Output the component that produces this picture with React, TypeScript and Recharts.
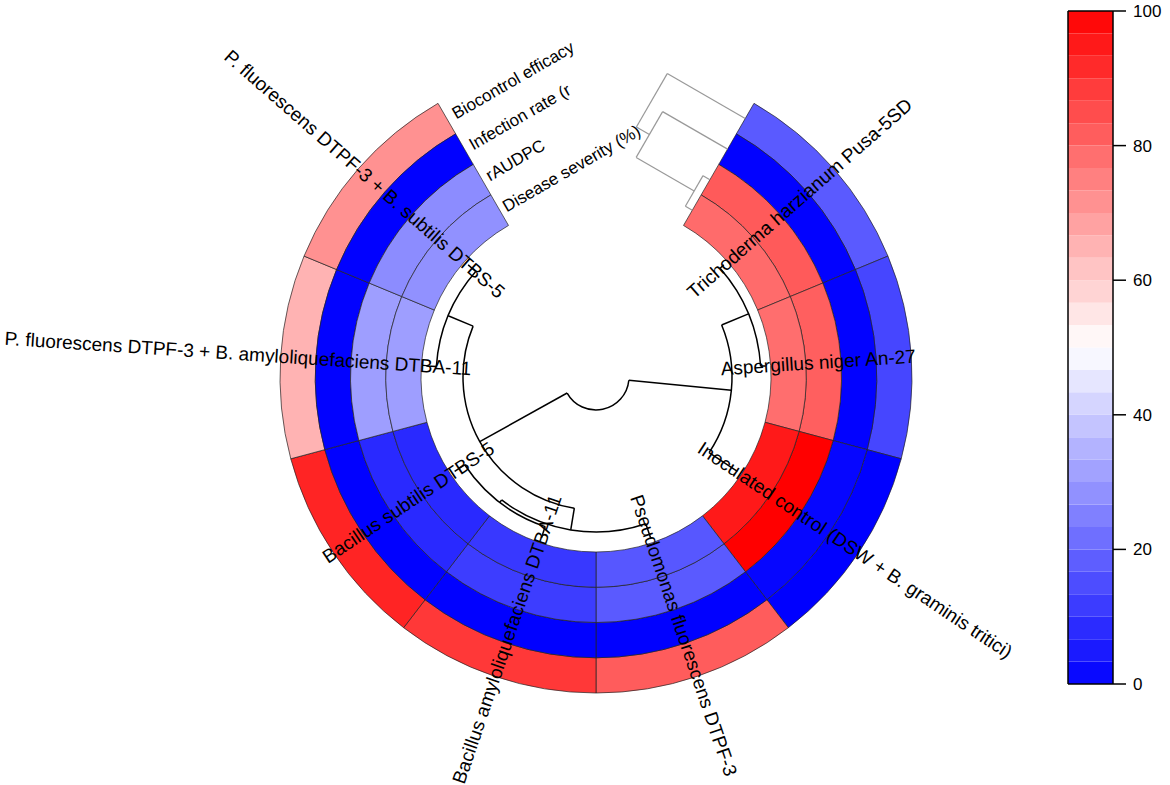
import React from "react";
import { Bar, BarChart, Cell, Pie, PieChart, XAxis, YAxis } from "recharts";

const treatments = [
  "Trichoderma harzianum Pusa-5SD",
  "Aspergillus niger An-27",
  "Inoculated control (DSW + B. graminis tritici)",
  "Pseudomonas fluorescens DTPF-3",
  "Bacillus amyloliquefaciens DTBA-11",
  "Bacillus subtilis DTBS-5",
  "P. fluorescens DTPF-3 + B. amyloliquefaciens DTBA-11",
  "P. fluorescens DTPF-3 + B. subtilis DTBS-5",
];

// tracks, outer to inner
const traits = ["Biocontrol efficacy", "Infection rate (r", "rAUDPC", "Disease severity (%)"];

const biocontrolEfficacy = [17.6, 13.7, 0, 82, 89, 93, 65, 71.6];
const infectionRate = [0.4, 0.3, 1.2, 0.2, 0.1, 0.1, 0.3, 0.2];
const rAUDPC = [82.4, 81.4, 100, 17.6, 12, 8, 31, 27.5];
const diseaseSeverity = [79, 78.4, 95, 17, 11, 8, 31, 28.4];

const legendTicks = [0, 20, 40, 60, 80, 100];
const legendSteps = 30;

// row dendrogram (leaf = treatment index, h = merge height)
type Tree = number | { h: number; kids: Tree[] };
const rowTree: Tree = {
  h: 137,
  kids: [
    { h: 34, kids: [{ h: 5, kids: [0, 1] }, 2] },
    {
      h: 37,
      kids: [
        { h: 15, kids: [3, { h: 12, kids: [4, 5] }] },
        { h: 10, kids: [6, 7] },
      ],
    },
  ],
};
// column dendrogram (leaf = trait index)
const colTree: Tree = { h: 90, kids: [0, { h: 75, kids: [1, { h: 8, kids: [2, 3] }] }] };

const W = 1170;
const H = 785;
const CX = 596;
const CY = 377;
const R_IN = 175;
const R_OUT = 316;
const RING = (R_OUT - R_IN) / traits.length;
const GAP_START = 30; // degrees clockwise from 12 o'clock
const SPAN = 300;
const STEP = SPAN / treatments.length;
const LEAF_R = 170;
const LABEL_R = 125;
const FONT = "'Liberation Sans', Arial, sans-serif";

const trackValues = [biocontrolEfficacy, infectionRate, rAUDPC, diseaseSeverity];

function heatColor(v: number) {
  const x = Math.max(0, Math.min(100, v));
  if (x <= 50) {
    const c = Math.round((255 * x) / 50);
    return `rgb(${c},${c},255)`;
  }
  const c = Math.round(255 * (1 - (x - 50) / 50));
  return `rgb(255,${c},${c})`;
}

const sectorAngle = (i: number) => GAP_START + (i + 0.5) * STEP;

function polar(r: number, t: number): [number, number] {
  const a = (t * Math.PI) / 180;
  return [CX + r * Math.sin(a), CY - r * Math.cos(a)];
}

function arcPath(r: number, t1: number, t2: number) {
  const [x1, y1] = polar(r, t1);
  const [x2, y2] = polar(r, t2);
  const large = t2 - t1 > 180 ? 1 : 0;
  return `M${x1},${y1} A${r},${r} 0 ${large} 1 ${x2},${y2}`;
}

function rowDendro(node: Tree, out: string[]): { angle: number; r: number } {
  if (typeof node === "number") return { angle: sectorAngle(node), r: LEAF_R };
  const kids = node.kids.map((k) => rowDendro(k, out));
  const r = LEAF_R - node.h;
  kids.forEach((k) => {
    const [x1, y1] = polar(r, k.angle);
    const [x2, y2] = polar(k.r, k.angle);
    out.push(`M${x1},${y1} L${x2},${y2}`);
  });
  const angles = kids.map((k) => k.angle);
  out.push(arcPath(r, Math.min(...angles), Math.max(...angles)));
  return { angle: angles.reduce((a, b) => a + b, 0) / angles.length, r };
}

const ringMid = (j: number) => R_OUT - (j + 0.5) * RING;

function colPoint(rad: number, h: number): [number, number] {
  const a = (GAP_START * Math.PI) / 180;
  return [CX + rad * Math.sin(a) - h * Math.cos(a), CY - rad * Math.cos(a) - h * Math.sin(a)];
}

function colDendro(node: Tree, out: string[]): { rad: number; h: number } {
  if (typeof node === "number") return { rad: ringMid(node), h: 0 };
  const kids = node.kids.map((k) => colDendro(k, out));
  kids.forEach((k) => {
    const [x1, y1] = colPoint(k.rad, k.h);
    const [x2, y2] = colPoint(k.rad, node.h);
    out.push(`M${x1},${y1} L${x2},${y2}`);
  });
  const rads = kids.map((k) => k.rad);
  const [x1, y1] = colPoint(Math.min(...rads), node.h);
  const [x2, y2] = colPoint(Math.max(...rads), node.h);
  out.push(`M${x1},${y1} L${x2},${y2}`);
  return { rad: rads.reduce((a, b) => a + b, 0) / rads.length, h: node.h };
}

function Overlay() {
  const rowPaths: string[] = [];
  rowDendro(rowTree, rowPaths);
  const colPaths: string[] = [];
  colDendro(colTree, colPaths);
  return (
    <svg width={W} height={H} style={{ position: "absolute", left: 0, top: 0, pointerEvents: "none" }}>
      {rowPaths.map((d, i) => (
        <path key={`r${i}`} d={d} fill="none" stroke="#000" strokeWidth={1.5} />
      ))}
      {colPaths.map((d, i) => (
        <path key={`c${i}`} d={d} fill="none" stroke="#999" strokeWidth={1.2} />
      ))}
      {treatments.map((name, i) => {
        const t = sectorAngle(i);
        const [x, y] = polar(LABEL_R, t);
        const right = t < 180;
        const rot = right ? t - 90 : t - 270;
        return (
          <text
            key={name}
            x={x}
            y={y}
            transform={`rotate(${rot} ${x} ${y})`}
            textAnchor={right ? "start" : "end"}
            dominantBaseline="central"
            fontSize={19}
            fontFamily={FONT}
            fill="#000"
          >
            {name}
          </text>
        );
      })}
      {traits.map((name, j) => {
        const [x, y] = polar(ringMid(j), -28.5);
        return (
          <text
            key={name}
            x={x}
            y={y}
            transform={`rotate(-30 ${x} ${y})`}
            textAnchor="start"
            dominantBaseline="central"
            fontSize={17}
            fontFamily={FONT}
            fill="#000"
          >
            {name}
          </text>
        );
      })}
    </svg>
  );
}

const legendKeys = Array.from({ length: legendSteps }, (_, i) => `b${i}`);
const legendRow = [
  Object.fromEntries([["name", ""], ...legendKeys.map((k) => [k, 100 / legendSteps])]),
];

const frameLine = { stroke: "#000", strokeWidth: 1.5 };

export default function App() {
  const pieData = treatments.map((name) => ({ name, size: 1 }));
  return (
    <div style={{ position: "absolute", left: 0, top: 0, width: W, height: H, background: "#fff" }}>
      <div style={{ position: "absolute", left: 0, top: 0 }}>
        <PieChart width={W} height={H} margin={{ top: 0, right: 0, bottom: 0, left: 0 }}>
          {trackValues.map((vals, j) => (
            <Pie
              key={traits[j]}
              data={pieData}
              dataKey="size"
              cx={CX}
              cy={CY}
              outerRadius={R_OUT - j * RING}
              innerRadius={R_OUT - (j + 1) * RING}
              startAngle={90 - GAP_START}
              endAngle={90 - GAP_START - SPAN}
              paddingAngle={0}
              stroke="#222"
              strokeWidth={0.7}
              label={false}
              labelLine={false}
              isAnimationActive={false}
            >
              {vals.map((v, i) => (
                <Cell key={i} fill={heatColor(v)} />
              ))}
            </Pie>
          ))}
        </PieChart>
      </div>
      <div style={{ position: "absolute", left: 1040, top: 0 }}>
        <BarChart
          width={130}
          height={700}
          data={legendRow}
          margin={{ top: 10, right: 56, bottom: 15, left: 27 }}
          barCategoryGap={0}
          barGap={0}
        >
          <XAxis dataKey="name" height={1} tick={false} tickLine={false} axisLine={frameLine} />
          <XAxis
            xAxisId="top"
            orientation="top"
            dataKey="name"
            height={1}
            tick={false}
            tickLine={false}
            axisLine={frameLine}
          />
          <YAxis
            yAxisId="left"
            orientation="left"
            domain={[0, 100]}
            allowDataOverflow
            width={1}
            tick={false}
            tickLine={false}
            axisLine={frameLine}
          />
          <YAxis
            orientation="right"
            domain={[0, 100]}
            allowDataOverflow
            ticks={legendTicks}
            width={1}
            tickSize={13}
            tickMargin={7}
            axisLine={frameLine}
            tickLine={frameLine}
            tick={{ fill: "#000", fontSize: 17, fontFamily: FONT, textAnchor: "start" }}
          />
          {legendKeys.map((k, i) => (
            <Bar
              key={k}
              dataKey={k}
              stackId="s"
              fill={heatColor(((i + 0.5) * 100) / legendSteps)}
              isAnimationActive={false}
            />
          ))}
        </BarChart>
      </div>
      <Overlay />
    </div>
  );
}
